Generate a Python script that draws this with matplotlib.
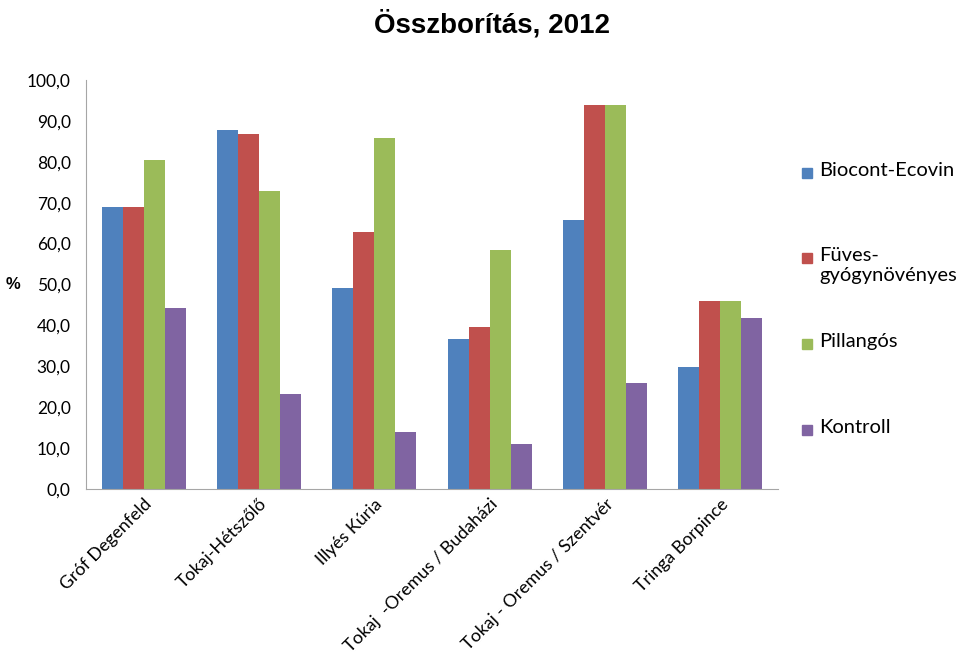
import numpy as np
import matplotlib
matplotlib.use('Agg')
import matplotlib.pyplot as plt
from matplotlib.patches import Rectangle

# data
sites = ['Gróf Degenfeld', 'Tokaj-Hétszőlő', 'Illyés Kúria',
         'Tokaj  -Oremus / Budaházi', 'Tokaj - Oremus / Szentvér', 'Tringa Borpince']
series = ['Biocont-Ecovin', 'Füves-\ngyógynövényes', 'Pillangós', 'Kontroll']
biocont = [69.0, 87.8, 49.1, 36.7, 65.8, 29.8]
fuves = [69.0, 86.8, 62.8, 39.6, 93.9, 46.0]
pillangos = [80.4, 72.9, 85.8, 58.4, 93.9, 46.0]
kontroll = [44.3, 23.2, 13.9, 11.0, 25.9, 41.8]
colors = ['#4F81BD', '#C0504D', '#9BBB59', '#8064A2']
yticks = np.arange(0, 101, 10)

plt.rcParams['font.family'] = ['Lato', 'DejaVu Sans']

W, H = 960, 661
fig = plt.figure(figsize=(W / 100, H / 100), dpi=100)
ax = fig.add_axes([86 / W, 1 - 489 / H, 692 / W, 409 / H])

x = np.arange(len(sites))
w = 0.182
for i, (vals, lab) in enumerate(zip([biocont, fuves, pillangos, kontroll], series)):
    ax.bar(x + (i - 1.5) * w, vals, width=w, color=colors[i], label=lab)

ax.set_xlim(-0.5, len(sites) - 0.5)
ax.set_ylim(0, 100)
ax.set_yticks(yticks)
ax.yaxis.set_major_formatter(plt.FuncFormatter(lambda v, p: ('%.1f' % v).replace('.', ',')))
ax.tick_params(axis='y', length=0, labelsize=12.5, pad=11)
ax.set_xticks(x)
ax.set_xticklabels(sites, rotation=45, ha='right', rotation_mode='anchor', fontsize=12.8)
ax.tick_params(axis='x', length=0, pad=5)

for s in ['top', 'right']:
    ax.spines[s].set_visible(False)
ax.spines['left'].set_color('#A6A6A6')
ax.spines['bottom'].set_color('#A6A6A6')

ax.set_ylabel('%', rotation=0, fontsize=12, fontweight='bold',
              family=['Liberation Sans'], va='center')
ax.yaxis.set_label_coords(-0.105, 0.5)

fig.suptitle('Összborítás, 2012', x=0.513, y=0.985, fontsize=20, fontweight='bold',
             family=['Liberation Sans'])

# legend drawn by hand so the square sits on the first text line, like Excel
leg_y = [173, 258, 344, 430]
for lab, c, yy in zip(series, colors, leg_y):
    fig.patches.append(Rectangle((802 / W, 1 - (yy + 5) / H), 10 / W, 10 / H,
                                 transform=fig.transFigure, color=c))
    fig.text(819 / W, 1 - (yy - 11) / H, lab, fontsize=14.5, va='top', ha='left',
             linespacing=1.2)

fig.savefig('out.png', dpi=100)
